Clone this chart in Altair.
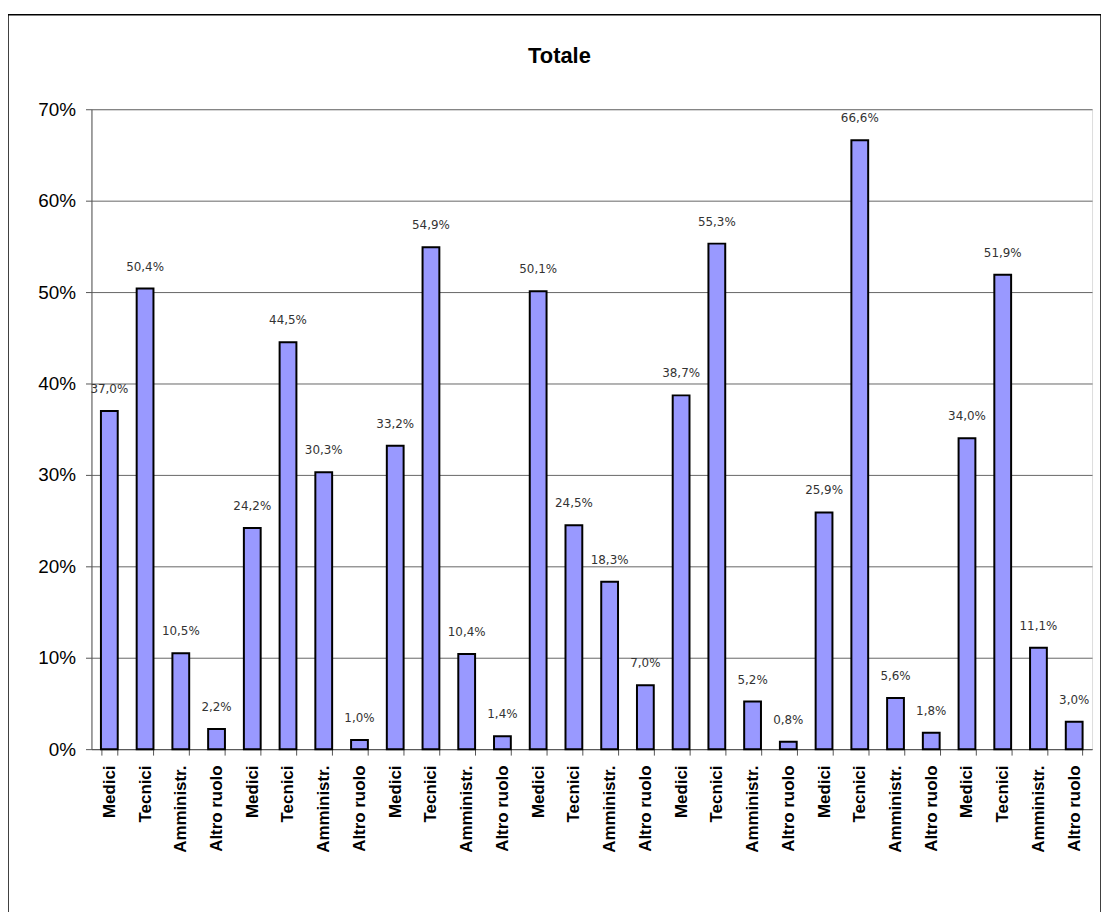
import altair as alt
import pandas as pd

roles = ["Medici", "Tecnici", "Amministr.", "Altro ruolo"] * 7
values = [37.0, 50.4, 10.5, 2.2,
          24.2, 44.5, 30.3, 1.0,
          33.2, 54.9, 10.4, 1.4,
          50.1, 24.5, 18.3, 7.0,
          38.7, 55.3, 5.2, 0.8,
          25.9, 66.6, 5.6, 1.8,
          34.0, 51.9, 11.1, 3.0]
title_text = "Totale"

ids = [f"c{i:02d}" for i in range(len(values))]
df = pd.DataFrame({
    "id": ids,
    "role": roles,
    "value": [v / 100 for v in values],
    "label": [f"{v:.1f}".replace(".", ",") + "%" for v in values],
})

label_expr = "{" + ",".join(f"'{i}':'{r}'" for i, r in zip(ids, roles)) + "}[datum.value]"

W, H = 1007, 644

x = alt.X("id:N", sort=ids, title=None,
          scale=alt.Scale(paddingInner=0.53, paddingOuter=0.265),
          axis=alt.Axis(labelExpr=label_expr, labelAngle=-90, labelAlign="right",
                        labelBaseline="middle", labelFont="Liberation Sans",
                        labelFontWeight="bold", labelFontSize=17, labelColor="black",
                        labelPadding=10, tickBand="extent", tickSize=6,
                        tickColor="#555555", domainColor="#555555", grid=False))
y = alt.Y("value:Q", title=None,
          scale=alt.Scale(domain=[0, 0.7], nice=False),
          axis=alt.Axis(format=".0%", values=[0, 0.1, 0.2, 0.3, 0.4, 0.5, 0.6, 0.7],
                        labelFont="Liberation Sans", labelFontSize=19, labelColor="black",
                        labelPadding=10, tickSize=6, tickColor="#555555",
                        domainColor="#555555", gridColor="#666666", gridWidth=1))

bars = alt.Chart(df).mark_bar(color="#9999FF", stroke="black", strokeWidth=2).encode(x=x, y=y)

text = alt.Chart(df).mark_text(dy=-22, baseline="middle", font="DejaVu Sans",
                               fontSize=12, color="#333333").encode(
    x=alt.X("id:N", sort=ids), y="value:Q", text="label:N")

aux = pd.DataFrame({"t": [title_text]})

frame = alt.Chart(aux).mark_rect(
    fill=None, stroke="black", strokeWidth=1.5, clip=False).encode(
    x=alt.value(-84), x2=alt.value(1016), y=alt.value(-95), y2=alt.value(820))

title = alt.Chart(aux).mark_text(font="Liberation Sans", fontSize=22, fontWeight="bold",
                                 color="black", baseline="alphabetic", align="center").encode(
    x=alt.value(471), y=alt.value(-47), text="t:N")

chart = alt.layer(frame, bars, text, title).properties(
    width=W, height=H,
    autosize=alt.AutoSizeParams(type="none"),
    padding={"left": 84, "top": 99, "right": 9, "bottom": 161},
).configure_view(stroke=None).configure(background="white")

chart.save("out.html", embed_options={"renderer": "svg", "actions": False})
